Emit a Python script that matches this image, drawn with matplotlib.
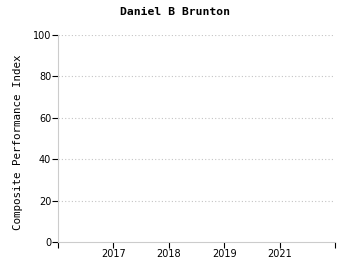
import matplotlib.pyplot as plt
import numpy as np

# chart data (no points plotted in the reference)
years = ['2017', '2018', '2019', '2021']
scores = []
y_ticks = [0, 20, 40, 60, 80, 100]
title = 'Daniel B Brunton'
y_label = 'Composite Performance Index'

fig = plt.figure(figsize=(3.5, 2.75), dpi=100)
ax = fig.add_axes([0.166, 0.12, 0.791, 0.753])

x_pos = np.arange(1, len(years) + 1)
if scores:
    ax.plot(x_pos, scores, marker='o')

ax.set_xlim(0, len(years) + 1)
ax.set_ylim(0, 100)
ax.set_xticks(np.arange(0, len(years) + 2))
ax.set_xticklabels([''] + years + [''], fontsize=7, family='DejaVu Sans')
ax.set_yticks(y_ticks)
ax.set_yticklabels([str(t) for t in y_ticks], fontsize=7, family='DejaVu Sans')
ax.tick_params(length=4, width=0.8, color='black', pad=1)

for t in y_ticks[1:]:
    ax.axhline(t, color='#c4c4c4', linestyle=(0, (1, 2)), linewidth=0.8)

for s in ['top', 'right']:
    ax.spines[s].set_visible(False)
for s in ['left', 'bottom']:
    ax.spines[s].set_color('#cccccc')
    ax.spines[s].set_linewidth(0.8)

ax.set_ylabel(y_label, fontsize=7.8, family='DejaVu Sans Mono')
ax.yaxis.set_label_coords(-0.125, 0.48)
fig.text(0.5, 0.955, title, ha='center', va='center', fontsize=8.2,
         fontweight='bold', family='DejaVu Sans Mono')

fig.savefig('out.png', dpi=100)
